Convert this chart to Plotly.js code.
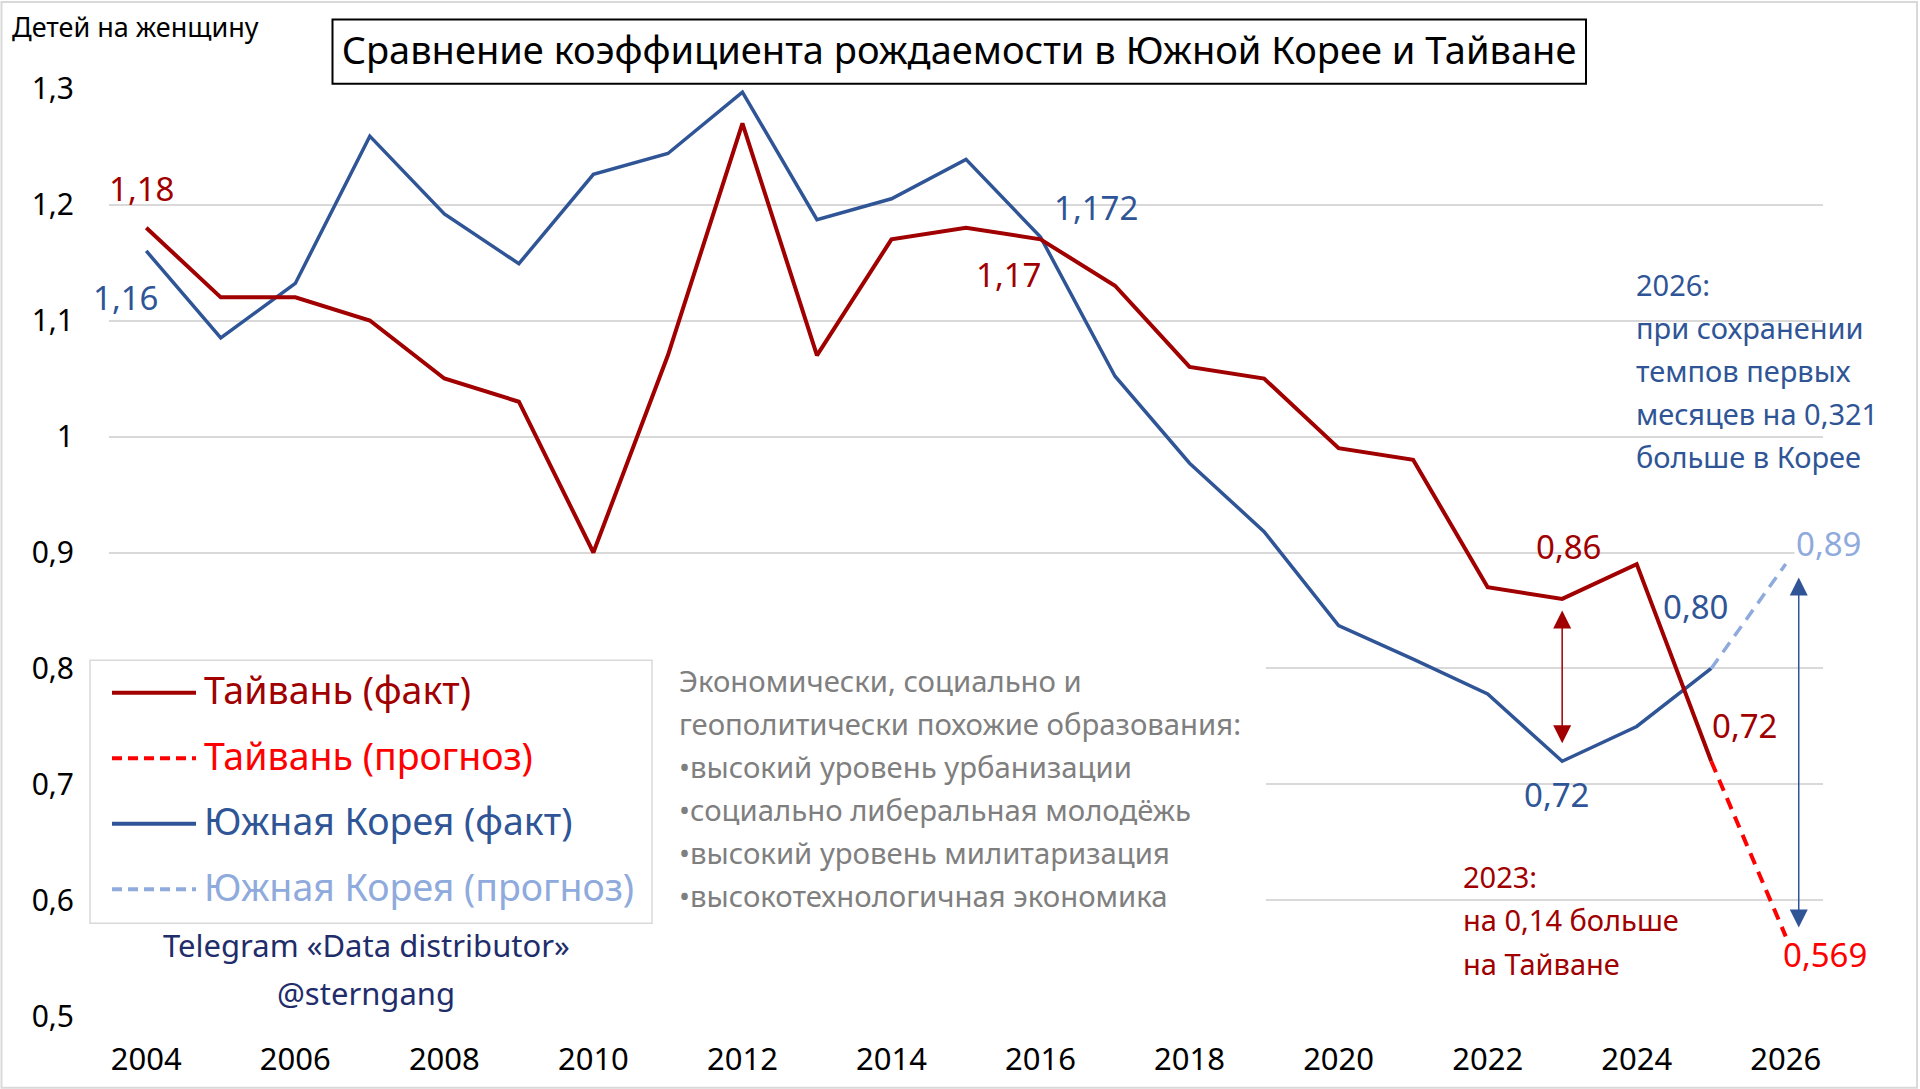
<!DOCTYPE html>
<html lang="ru">
<head>
<meta charset="utf-8">
<title>Сравнение коэффициента рождаемости в Южной Корее и Тайване</title>
<script src="https://cdn.plot.ly/plotly-3.0.1.min.js"></script>
<style>
  html, body { margin: 0; padding: 0; background: #ffffff; }
  #chart { width: 1920px; height: 1089px; }
</style>
</head>
<body>
<div id="chart"></div>
<script>
// ── Data ───────────────────────────────────────────────────────────────────────

const YEARS = [
  2004, 2005, 2006, 2007, 2008, 2009, 2010, 2011, 2012, 2013, 2014,
  2015, 2016, 2017, 2018, 2019, 2020, 2021, 2022, 2023, 2024, 2025,
];
const TAIWAN_FACT = [
  1.18, 1.12, 1.12, 1.10, 1.05, 1.03, 0.90, 1.07, 1.27, 1.07, 1.17,
  1.18, 1.17, 1.13, 1.06, 1.05, 0.99, 0.98, 0.87, 0.86, 0.89, 0.72,
];
const KOREA_FACT = [
  1.16, 1.085, 1.132, 1.259, 1.192, 1.149, 1.226, 1.244, 1.297, 1.187, 1.205,
  1.239, 1.172, 1.052, 0.977, 0.918, 0.837, 0.808, 0.778, 0.72, 0.75, 0.80,
];

const FORECAST_YEARS = [2025, 2026];
const TAIWAN_FORECAST = [0.72, 0.569];
const KOREA_FORECAST = [0.80, 0.89];

const X_TICKS = [2004, 2006, 2008, 2010, 2012, 2014, 2016, 2018, 2020, 2022, 2024, 2026];
const Y_TICKS = [0.5, 0.6, 0.7, 0.8, 0.9, 1.0, 1.1, 1.2, 1.3];
const Y_TICK_TEXT = ["0,5", "0,6", "0,7", "0,8", "0,9", "1", "1,1", "1,2", "1,3"];

// point labels: which series, which year, what it says
const POINT_LABELS = [
  { series: "tw", year: 2004, text: "1,18" },
  { series: "kr", year: 2004, text: "1,16" },
  { series: "kr", year: 2016, text: "1,172" },
  { series: "tw", year: 2016, text: "1,17" },
  { series: "tw", year: 2023, text: "0,86" },
  { series: "kr", year: 2023, text: "0,72" },
  { series: "kr", year: 2025, text: "0,80" },
  { series: "tw", year: 2025, text: "0,72" },
  { series: "twF", year: 2026, text: "0,569" },
  { series: "krF", year: 2026, text: "0,89" },
];

const TITLE = "Сравнение коэффициента рождаемости в Южной Корее и Тайване";
const Y_TITLE = "Детей на женщину";
const NOTE_LINES = [
  "Экономически, социально и",
  "геополитически похожие образования:",
  "•высокий уровень урбанизации",
  "•социально либеральная молодёжь",
  "•высокий уровень милитаризация",
  "•высокотехнологичная экономика",
];
const KOREA_NOTE = ["2026:", "при сохранении", "темпов первых", "месяцев на 0,321", "больше в Корее"];
const TAIWAN_NOTE = ["2023:", "на 0,14 больше", "на Тайване"];
const SOURCE_LINES = ["Telegram «Data distributor»", "@sterngang"];

// ── Styles ─────────────────────────────────────────────────────────────────────

const C = {
  twFact: "#A00000",
  twFc: "#FF0000",
  krFact: "#2F5597",
  krFc: "#8FAADC",
  grid: "#D9D9D9",
  gray: "#7F7F7F",
  navy: "#1F2D6B",
};
const FONT = "'Noto Sans', 'Open Sans', sans-serif";

const W = 1920, H = 1089;
const PLOT = { l: 109, r: 1823, t: 87.6, b: 1016.7 };

// pixel → paper helpers for layout bits (boxes, notes, legend)
const xp = (px) => (px - PLOT.l) / (PLOT.r - PLOT.l);
const yp = (py) => (PLOT.b - py) / (PLOT.b - PLOT.t);

const SERIES = {
  tw: { x: YEARS, y: TAIWAN_FACT, color: C.twFact },
  kr: { x: YEARS, y: KOREA_FACT, color: C.krFact },
  twF: { x: FORECAST_YEARS, y: TAIWAN_FORECAST, color: C.twFc },
  krF: { x: FORECAST_YEARS, y: KOREA_FORECAST, color: C.krFc },
};
const valueAt = (key, year) => SERIES[key].y[SERIES[key].x.indexOf(year)];

// label offsets from their point, px (right / down)
const LABEL_OFFSETS = [
  [-5, -39], [-21, 47], [55, -30], [-32, 35], [6, -52],
  [-6, 33], [-16, -62], [33, -36], [39, 18], [43, -21],
];

// ── Traces ─────────────────────────────────────────────────────────────────────

const traces = [
  {
    x: YEARS, y: KOREA_FACT, type: "scatter", mode: "lines",
    name: "Южная Корея (факт)", line: { color: C.krFact, width: 3.5 },
  },
  {
    x: FORECAST_YEARS, y: KOREA_FORECAST, type: "scatter", mode: "lines",
    name: "Южная Корея (прогноз)", line: { color: C.krFc, width: 3.5, dash: "12px,8px" },
  },
  {
    x: YEARS, y: TAIWAN_FACT, type: "scatter", mode: "lines",
    name: "Тайвань (факт)", line: { color: C.twFact, width: 4 },
  },
  {
    x: FORECAST_YEARS, y: TAIWAN_FORECAST, type: "scatter", mode: "lines",
    name: "Тайвань (прогноз)", line: { color: C.twFc, width: 4, dash: "12px,8px" },
  },
];

// ── Annotations ────────────────────────────────────────────────────────────────

const annotations = [];

POINT_LABELS.forEach((lab, i) => {
  const [dx, dy] = LABEL_OFFSETS[i];
  const ann = {
    x: lab.year, y: valueAt(lab.series, lab.year), xref: "x", yref: "y",
    text: lab.text, showarrow: false, xanchor: "center", yanchor: "middle",
    xshift: dx, yshift: -dy,
    font: { family: FONT, size: 33, color: SERIES[lab.series].color },
  };
  if (lab.series === "krF") ann.bgcolor = "#ffffff";
  annotations.push(ann);
});

// plotly's middle anchor sits a touch low, so lines are lifted by LIFT px
const LIFT = 3;
function textLines(lines, left, top, gap, size, color, anchor) {
  lines.forEach((t, i) => {
    annotations.push({
      x: xp(left), y: yp(top - LIFT + i * gap), xref: "paper", yref: "paper",
      text: t, showarrow: false, xanchor: anchor || "left", yanchor: "middle",
      font: { family: FONT, size, color },
    });
  });
}

textLines([Y_TITLE], 10, 29, 0, 27, "#000000");
textLines(NOTE_LINES, 677, 684, 43, 29.3, C.gray);
textLines(KOREA_NOTE, 1634, 287, 43, 29, C.krFact);
textLines(TAIWAN_NOTE, 1461, 879, 43.5, 29, C.twFact);
textLines(SOURCE_LINES, 366, 948, 48, 31, C.navy, "center");

const shapes = [];

// white panel behind legend + note hides the gridlines there (no data passes here)
shapes.push({
  type: "rect", xref: "paper", yref: "paper", layer: "above",
  x0: xp(109), x1: xp(1266), y0: yp(1000), y1: yp(640),
  fillcolor: "#ffffff", line: { width: 0 },
});

// legend, drawn by hand so the samples are as long as in the original
const LEGEND = [
  { name: "Тайвань (факт)", color: C.twFact, dash: "solid" },
  { name: "Тайвань (прогноз)", color: C.twFc, dash: "10px,6px" },
  { name: "Южная Корея (факт)", color: C.krFact, dash: "solid" },
  { name: "Южная Корея (прогноз)", color: C.krFc, dash: "10px,6px" },
];
LEGEND.forEach((item, i) => {
  const cy = 692.5 + i * 65.5;
  shapes.push({
    type: "line", xref: "paper", yref: "paper", layer: "above",
    x0: xp(112), x1: xp(196), y0: yp(cy), y1: yp(cy),
    line: { color: item.color, width: 4, dash: item.dash },
  });
  annotations.push({
    x: xp(202), y: yp(cy - LIFT), xref: "paper", yref: "paper",
    text: item.name, showarrow: false, xanchor: "left", yanchor: "middle",
    font: { family: FONT, size: 37.5, color: item.color },
  });
});

// double arrows showing the gaps
annotations.push({
  x: 2023, y: valueAt("kr", 2023), ax: 2023, ay: valueAt("tw", 2023),
  xref: "x", yref: "y", axref: "x", ayref: "y", text: "",
  showarrow: true, arrowside: "end+start",
  arrowhead: 2, startarrowhead: 2, arrowsize: 2.4, startarrowsize: 2.4,
  arrowwidth: 1.5, arrowcolor: C.twFact, standoff: 18, startstandoff: 10,
});
annotations.push({
  x: 2026, y: valueAt("twF", 2026), ax: 2026, ay: valueAt("krF", 2026),
  xref: "x", yref: "y", axref: "x", ayref: "y", text: "", xshift: 13,
  showarrow: true, arrowside: "end+start",
  arrowhead: 2, startarrowhead: 2, arrowsize: 2.4, startarrowsize: 2.4,
  arrowwidth: 1.5, arrowcolor: C.krFact, standoff: 9, startstandoff: 12,
});

// legend frame
shapes.push({
  type: "rect", xref: "paper", yref: "paper", layer: "above",
  x0: xp(90), x1: xp(652), y0: yp(923), y1: yp(660),
  line: { color: C.grid, width: 1.5 },
});
// title frame
shapes.push({
  type: "rect", xref: "paper", yref: "paper", layer: "above",
  x0: xp(332.5), x1: xp(1586), y0: yp(83.4), y1: yp(19),
  line: { color: "#000000", width: 2 },
});
// outer frame of the picture
shapes.push({
  type: "rect", xref: "paper", yref: "paper", layer: "above",
  x0: xp(1.5), x1: xp(1917), y0: yp(1087.5), y1: yp(1.5),
  line: { color: C.grid, width: 2 },
});

// ── Layout ─────────────────────────────────────────────────────────────────────

const layout = {
  width: W,
  height: H,
  margin: { l: PLOT.l, r: W - PLOT.r, t: PLOT.t, b: H - PLOT.b, pad: 0 },
  paper_bgcolor: "#ffffff",
  plot_bgcolor: "#ffffff",
  font: { family: FONT, size: 30, color: "#000000" },
  showlegend: false,
  title: {
    text: TITLE,
    font: { family: FONT, size: 38, color: "#000000" },
    xref: "container", x: 959 / W,
    yref: "container", y: 1 - 51 / H, yanchor: "middle",
  },
  xaxis: {
    range: [2003.5, 2026.5],
    tickvals: X_TICKS,
    ticktext: X_TICKS.map(String),
    ticks: "outside", ticklen: 15, tickcolor: "rgba(0,0,0,0)",
    tickfont: { family: FONT, size: 31, color: "#000000" },
    showgrid: false, zeroline: false, showline: false,
  },
  yaxis: {
    range: [0.4995, 1.3005],
    tickvals: Y_TICKS,
    ticktext: Y_TICK_TEXT,
    ticks: "outside", ticklen: 28, tickcolor: "rgba(0,0,0,0)",
    tickfont: { family: FONT, size: 30, color: "#000000" },
    showgrid: true, gridcolor: C.grid, gridwidth: 2,
    zeroline: false, showline: false,
  },
  shapes,
  annotations,
};

Plotly.newPlot("chart", traces, layout, { displayModeBar: false, responsive: false });
</script>
</body>
</html>
